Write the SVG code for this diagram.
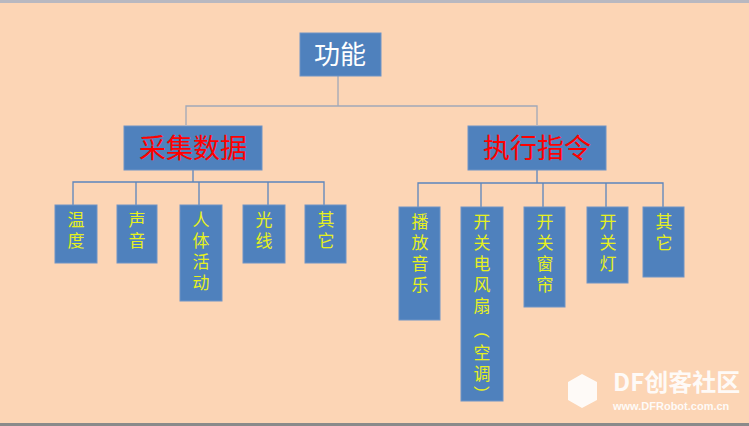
<svg xmlns="http://www.w3.org/2000/svg" width="749" height="426" viewBox="0 0 749 426">
<style>
.b{fill:#4f81bd;stroke:#6f94c6;stroke-width:1}
.c{fill:none;stroke:#5b85bd;stroke-width:1.3}
.y{fill:#e6f01e;font-family:"Noto Sans CJK SC",sans-serif;font-size:17px;text-anchor:middle}
.p{fill:#e6f01e;font-family:"Liberation Sans",sans-serif;font-size:17px;text-anchor:middle;dominant-baseline:central}
.r{fill:#ff0000;font-family:"Noto Sans CJK SC",sans-serif;font-size:27px;text-anchor:middle}
</style>
<rect width="749" height="426" fill="#fcd5b5"/>
<rect width="749" height="3" fill="#b8b8c0"/>
<rect y="423" width="749" height="3" fill="#8a8a8a"/>
<g id="connectors" class="c">
<path d="M338,76V106M186,125V106H537V125" stroke="#a0a8b8"/>
<path d="M193,170V182M73,205V182H324V205M136,182V205M199,182V205M268,182V205"/>
<path d="M537,170V183M418,207V183H663V207M481,183V207M543,183V207M606,183V207"/>
</g>
<g id="root"><rect class="b" x="300" y="33" width="81" height="43"/><text x="340" y="64" font-family="Noto Sans CJK SC,sans-serif" font-size="26" fill="#fff" text-anchor="middle">功能</text></g>
<g id="collect"><rect class="b" x="124" y="126" width="138" height="44"/><text class="r" x="193" y="158">采集数据</text></g>
<g id="exec"><rect class="b" x="468" y="126" width="138" height="44"/><text class="r" x="537" y="158">执行指令</text></g>
<g id="n1"><rect class="b" x="55" y="205" width="42" height="58"/><text class="y"><tspan x="76" y="226">温</tspan><tspan x="76" y="247">度</tspan></text></g>
<g id="n2"><rect class="b" x="117" y="205" width="40" height="58"/><text class="y"><tspan x="137" y="226">声</tspan><tspan x="137" y="247">音</tspan></text></g>
<g id="n3"><rect class="b" x="180" y="205" width="42" height="96"/><text class="y"><tspan x="201" y="226">人</tspan><tspan x="201" y="247">体</tspan><tspan x="201" y="268">活</tspan><tspan x="201" y="289">动</tspan></text></g>
<g id="n4"><rect class="b" x="243" y="205" width="42" height="58"/><text class="y"><tspan x="264" y="226">光</tspan><tspan x="264" y="247">线</tspan></text></g>
<g id="n5"><rect class="b" x="305" y="205" width="41" height="58"/><text class="y"><tspan x="326" y="226">其</tspan><tspan x="326" y="247">它</tspan></text></g>
<g id="m1"><rect class="b" x="399" y="207" width="41" height="113"/><text class="y"><tspan x="420" y="228">播</tspan><tspan x="420" y="249">放</tspan><tspan x="420" y="270">音</tspan><tspan x="420" y="291">乐</tspan></text></g>
<g id="m2"><rect class="b" x="461" y="207" width="42" height="194"/><text class="y"><tspan x="482" y="228">开</tspan><tspan x="482" y="249">关</tspan><tspan x="482" y="270">电</tspan><tspan x="482" y="291">风</tspan><tspan x="482" y="312">扇</tspan><tspan x="482" y="359">空</tspan><tspan x="482" y="380">调</tspan></text>
<text class="p" x="482" y="335" transform="rotate(90 482 335)">(</text><text class="p" x="482" y="389" transform="rotate(90 482 389)">)</text></g>
<g id="m3"><rect class="b" x="524" y="207" width="41" height="100"/><text class="y"><tspan x="545" y="228">开</tspan><tspan x="545" y="249">关</tspan><tspan x="545" y="270">窗</tspan><tspan x="545" y="291">帘</tspan></text></g>
<g id="m4"><rect class="b" x="587" y="207" width="41" height="76"/><text class="y"><tspan x="608" y="228">开</tspan><tspan x="608" y="249">关</tspan><tspan x="608" y="270">灯</tspan></text></g>
<g id="m5"><rect class="b" x="643" y="207" width="41" height="70"/><text class="y"><tspan x="664" y="228">其</tspan><tspan x="664" y="249">它</tspan></text></g>
<g id="watermark" fill="#fff" opacity="0.9">
<path d="M568,382L582,374L597,382V400L582,408L568,400Z"/>
<text x="613" y="391" font-family="Noto Sans CJK SC,sans-serif" font-size="24" font-weight="bold">DF创客社区</text>
<text x="613" y="410" font-family="Liberation Sans,sans-serif" font-size="11" font-weight="bold">www.DFRobot.com.cn</text>
</g>
</svg>
